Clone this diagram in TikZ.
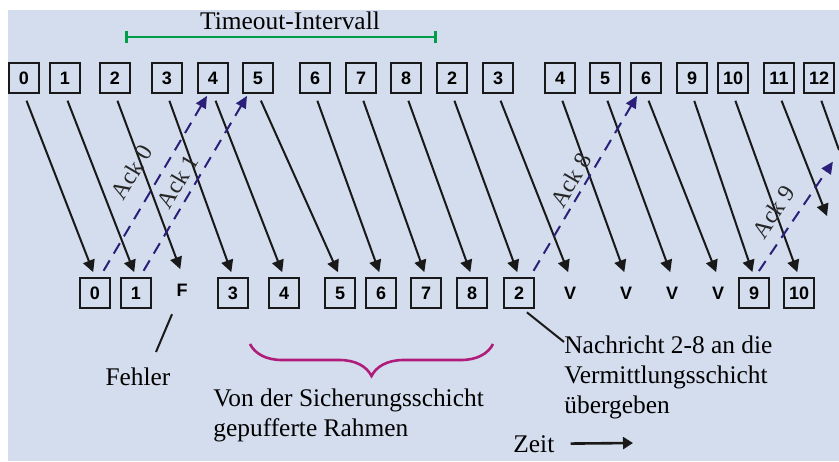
\documentclass[tikz,border=0pt]{standalone}
\usepackage{fontspec}
\setmainfont{Liberation Serif}
\setsansfont{Liberation Sans}
\usetikzlibrary{arrows.meta,decorations.pathreplacing}
\definecolor{hintergrund}{RGB}{212,221,237}
\definecolor{gruen}{RGB}{0,158,73}
\definecolor{klammer}{RGB}{176,28,122}
\definecolor{ackblau}{RGB}{42,32,122}
\tikzset{
  rahmen/.style={draw=black!90, line width=1.2pt, minimum size=15pt, inner sep=0pt,
    font=\sffamily\bfseries\fontsize{9}{9}\selectfont},
  frei/.style={rahmen, draw=none},
  sende/.style={black!90, line width=1pt, -{Triangle[length=6pt,width=6pt]},
    shorten <=3.5pt, shorten >=2.5pt},
  quitt/.style={ackblau, line width=1pt, dash pattern=on 6pt off 4pt,
    -{Triangle[length=6pt,width=5.5pt]}, shorten <=3.5pt, shorten >=1pt},
  acklabel/.style={sloped, font=\fontsize{12}{12}\selectfont, text=black!85},
  beschr/.style={inner sep=0pt, align=left, font=\fontsize{12.7}{15}\selectfont}
}
\begin{document}
\begin{tikzpicture}[x=0.5pt,y=-0.5pt]
\useasboundingbox (0,0) rectangle (839,461);
\fill[hintergrund] (8,10) rectangle (839,461);
\foreach \x/\n [count=\i from 0] in {24/0,65/1,115/2,167/3,213/4,258/5,315/6,361/7,406/8,
  452/2,498/3,560/4,605/5,646/6,692/9,733/10,779/11,819/12}
  \node[rahmen] (t\i) at (\x,78) {\n};
\foreach \x/\y/\n/\s [count=\i from 0] in {95/293/0/rahmen,136/293/1/rahmen,182/290/F/frei,
  233/293/3/rahmen,284/293/4/rahmen,340/293/5/rahmen,381/293/6/rahmen,426/293/7/rahmen,
  472/293/8/rahmen,519/293/2/rahmen,570/293/V/frei,626/293/V/frei,672/293/V/frei,
  718/293/V/frei,754/293/9/rahmen,799/293/10/rahmen}
  \node[\s] (b\i) at (\x,\y) {\n};
\foreach \i in {0,...,15}
  \draw[sende] (t\i.south) -- (b\i.north);
\coordinate (s11) at (827,216);
\coordinate (s12) at (839,150);
\coordinate (a9) at (834,160);
\draw[sende, shorten >=0pt] (t16.south) -- (s11);
\draw[sende, -, shorten >=0pt] (t17.south) -- (s12);
\draw[quitt] ([xshift=2.5pt]b0.north) -- node[acklabel, pos=0.5, above=5pt] {Ack 0} ([xshift=-2.5pt]t4.south);
\draw[quitt] ([xshift=2pt]b1.north) -- node[acklabel, pos=0.476, above=0pt] {Ack 1} ([xshift=-5pt]t5.south);
\draw[quitt] ([xshift=5.5pt]b9.north) -- node[acklabel, pos=0.49, above=-1pt] {Ack 8} ([xshift=-4pt]t13.south);
\draw[quitt] ([xshift=0.5pt]b14.north) -- node[acklabel, pos=0.456, above=2.5pt] {Ack 9} (a9);
\coordinate (tanf) at (125,37);
\coordinate (tend) at (437,37);
\draw[gruen, line width=1.3pt, {Bar[width=6pt]}-{Bar[width=6pt]}] (tanf) -- (tend);
\node[beschr] (timeout) at (290,21) {Timeout-Intervall};
\coordinate (kl) at (250,344);
\coordinate (kr) at (493,344);
\draw[klammer, line width=1.3pt, decorate, decoration={brace, amplitude=16pt}] (kr) -- (kl);
\node[beschr, anchor=base west] (puffer) at (213,436) {Von der Sicherungsschicht\\gepufferte Rahmen};
\node[beschr, anchor=base] (fehler) at (138,385) {Fehler};
\draw[black!90, line width=1pt] ([xshift=-5pt,yshift=-4pt]b2.south) -- ([xshift=9pt,yshift=7.5pt]fehler.north);
\node[beschr, anchor=base west] (nachricht) at (564,413) {Nachricht 2-8 an die\\Vermittlungsschicht\\übergeben};
\draw[black!90, line width=1pt, shorten <=2.5pt] ([xshift=2pt]b9.south) -- ([yshift=-3.5pt]nachricht.north west);
\node[beschr, anchor=base west] (zeit) at (513,452) {Zeit};
\coordinate (zeitende) at (633,443);
\draw[black!90, line width=1.3pt, shorten <=8pt, -{Triangle[length=5pt,width=6pt]}] (zeit.east) -- (zeitende);
\end{tikzpicture}
\end{document}
